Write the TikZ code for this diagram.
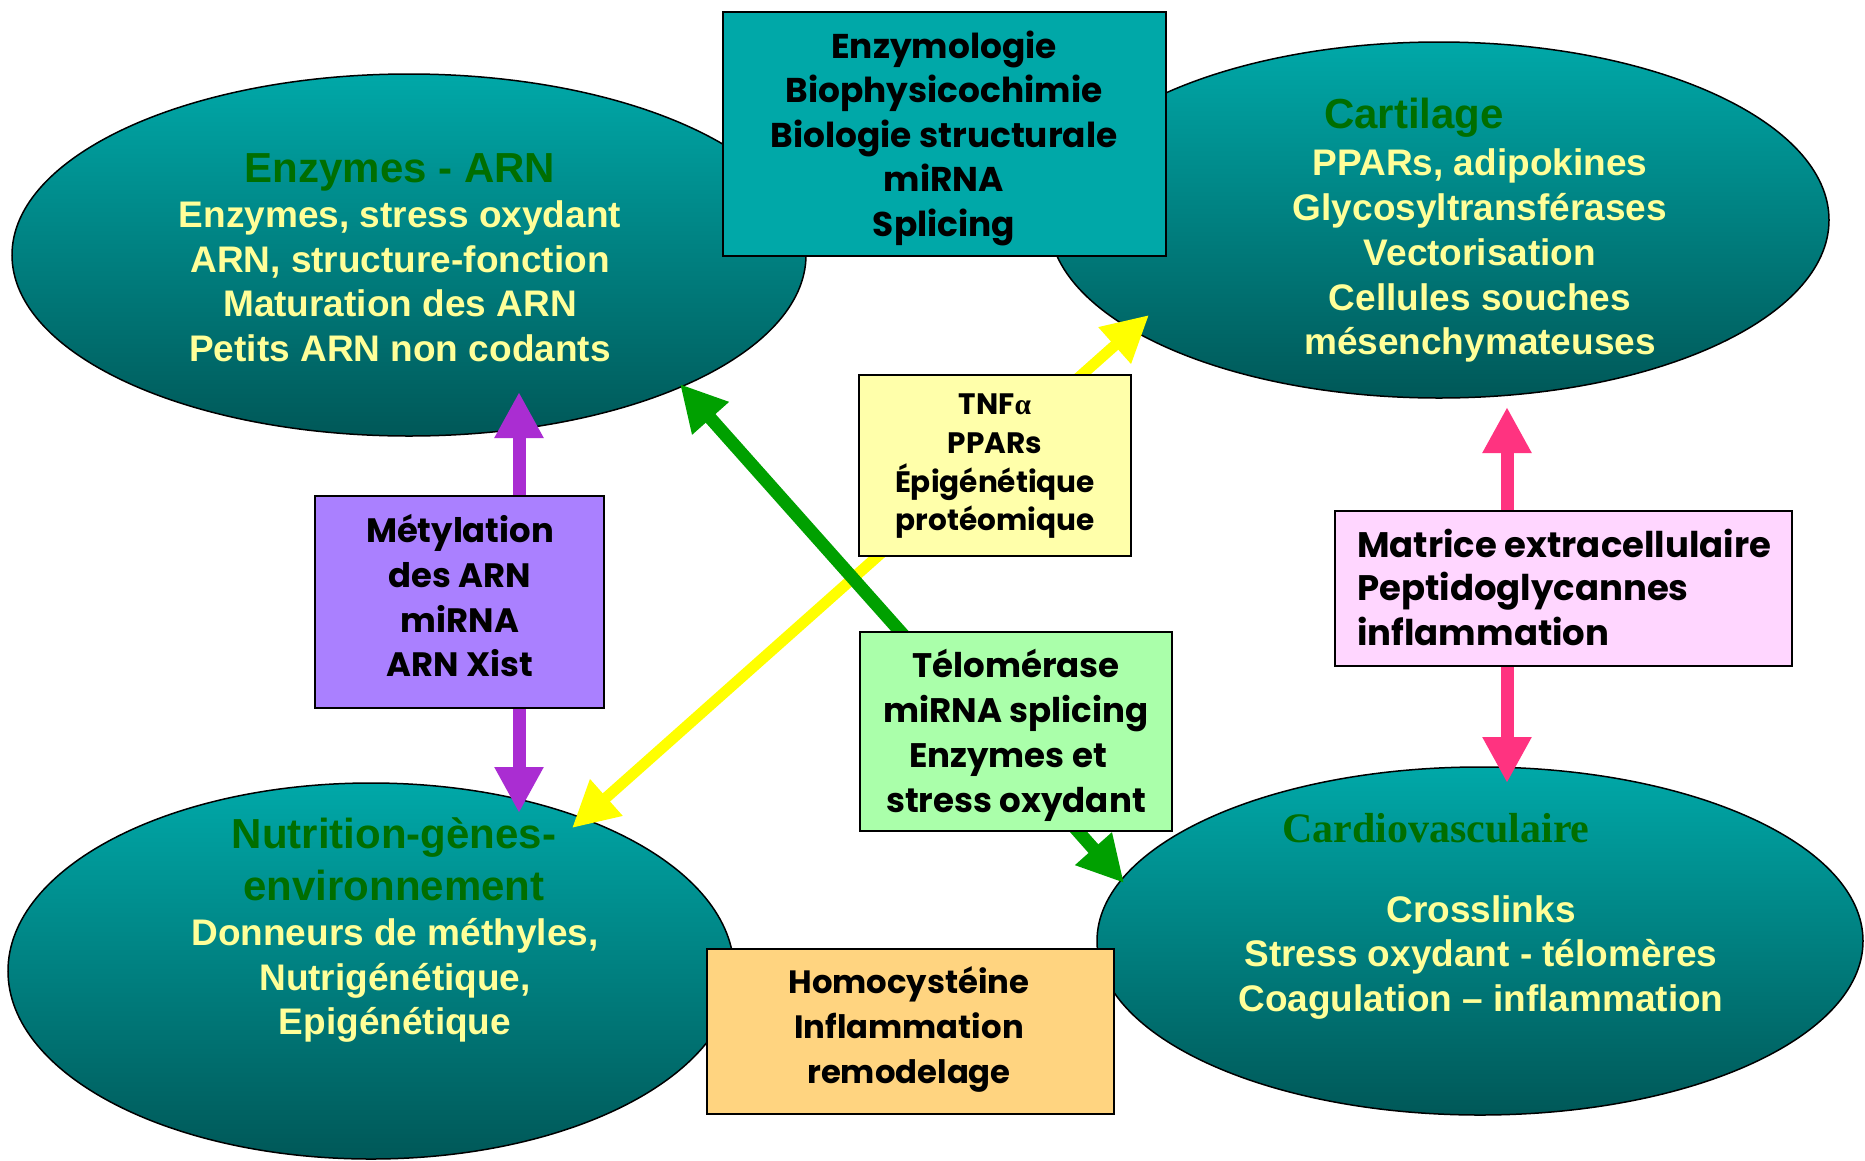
\documentclass[tikz,border=0pt]{standalone}
\usepackage{fontspec}
\setmainfont{Liberation Sans}
\newfontfamily\serifb{Liberation Serif}
\newfontfamily\comic{Poppins}
\usetikzlibrary{shapes.geometric,arrows.meta}
\definecolor{tealtop}{RGB}{0,168,168}
\definecolor{tealbot}{RGB}{0,88,88}
\definecolor{txtyel}{RGB}{255,255,153}
\definecolor{ttlgreen}{RGB}{0,110,0}
\definecolor{boxteal}{RGB}{0,168,168}
\definecolor{boxyel}{RGB}{255,255,170}
\definecolor{boxpur}{RGB}{170,128,255}
\definecolor{boxgrn}{RGB}{170,255,170}
\definecolor{boxpink}{RGB}{255,214,255}
\definecolor{boxora}{RGB}{255,212,128}
\definecolor{arrpur}{RGB}{170,45,210}
\definecolor{arrpink}{RGB}{255,51,128}
\definecolor{arrgrn}{RGB}{0,160,0}
\definecolor{arryel}{RGB}{255,255,0}
\newlength\tmpw
\newcommand\fitfs[3]{%
  \settowidth\tmpw{\comic\bfseries\fontsize{10}{12}\selectfont #1}%
  \pgfmathsetmacro#3{10*#2/\tmpw}}
\AtBeginDocument{%
\fitfs{Biologie structurale}{347}{\fsTop}%
\fitfs{Épigénétique}{200}{\fsYel}%
\fitfs{Métylation}{188}{\fsPur}%
\fitfs{miRNA splicing}{265}{\fsGrn}%
\fitfs{Matrice extracellulaire}{414}{\fsPink}%
\fitfs{Homocystéine}{241}{\fsOra}%
}
\tikzset{
  ell/.style={ellipse, draw=black, line width=1.5pt, inner sep=0pt, top color=tealtop, bottom color=tealbot},
  ttl/.style={anchor=base, inner sep=0pt, text=ttlgreen, font=\bfseries\fontsize{42}{50}\selectfont},
  body/.style={anchor=base, inner sep=0pt, text=txtyel, font=\bfseries\fontsize{37}{45}\selectfont},
  bx/.style={draw=black, line width=2.5pt, inner sep=0pt},
  btxt/.style={anchor=base, inner sep=0pt, text=black},
  con/.style={line width=13pt, -{Triangle[length=46pt,width=46pt]}},
  dcon/.style={line width=#1, {Triangle[length=46pt,width=46pt]}-{Triangle[length=46pt,width=46pt]}},
  btop/.style={btxt, font=\comic\bfseries\fontsize{\fsTop}{45}\selectfont},
  byel/.style={btxt, font=\comic\bfseries\fontsize{\fsYel}{39}\selectfont},
  bpur/.style={btxt, font=\comic\bfseries\fontsize{\fsPur}{45}\selectfont},
  bgrn/.style={btxt, font=\comic\bfseries\fontsize{\fsGrn}{45}\selectfont},
  bpink/.style={btxt, anchor=base west, font=\comic\bfseries\fontsize{\fsPink}{45}\selectfont},
  bora/.style={btxt, font=\comic\bfseries\fontsize{\fsOra}{45}\selectfont},
}
\begin{document}
\begin{tikzpicture}[x=1pt,y=-1pt]
\useasboundingbox (0,0) rectangle (1865,1160);
\fill[white] (0,0) rectangle (1865,1160);

% ellipses
\node[ell, minimum width=794pt, minimum height=362pt] (eA) at (409,255) {};
\node[ell, minimum width=780pt, minimum height=356pt] (eB) at (1439,220) {};
\node[ell, minimum width=726pt, minimum height=376pt] (eC) at (371,971) {};
\node[ell, minimum width=766pt, minimum height=348pt] (eD) at (1480,941) {};

% ellipse texts
\node[ttl] (tA0) at (400,182) {Enzymes - ARN};
\node[body] (tA1) at (400,227) {Enzymes, stress oxydant};
\node[body] (tA2) at (400,272) {ARN, structure-fonction};
\node[body] (tA3) at (400,316) {Maturation des ARN};
\node[body] (tA4) at (400,361) {Petits ARN non codants};

\node[ttl] (tB0) at (1414,128) {Cartilage};
\node[body] (tB1) at (1480,175) {PPARs, adipokines};
\node[body] (tB2) at (1480,220) {Glycosyltransférases};
\node[body] (tB3) at (1480,265) {Vectorisation};
\node[body] (tB4) at (1480,310) {Cellules souches};
\node[body] (tB5) at (1480,354) {mésenchymateuses};

\node[ttl] (tC0) at (394,848) {Nutrition-gènes-};
\node[ttl] (tC1) at (394,900) {environnement};
\node[body] (tC2) at (395,945) {Donneurs de méthyles,};
\node[body] (tC3) at (395,990) {Nutrigénétique,};
\node[body] (tC4) at (395,1034) {Epigénétique};

\node[ttl, font=\serifb\bfseries\fontsize{42}{50}\selectfont] (tD0) at (1436,842) {Cardiovasculaire};
\node[body] (tD1) at (1481,922) {Crosslinks};
\node[body] (tD2) at (1481,966) {Stress oxydant - télomères};
\node[body] (tD3) at (1481,1011) {Coagulation – inflammation};

% arrow end points
\coordinate (yB) at (1149,315);
\coordinate (yC) at (572,828);
\coordinate (gA) at (680,384);
\coordinate (gD) at (1124,883);
\coordinate (pA) at (519,392);
\coordinate (pC) at (519,813);
\coordinate (kB) at (1507,407);
\coordinate (kD) at (1507,783);

% boxes (positions)
\path (944.5,134) coordinate (cTop) (995,465.5) coordinate (cYel)
      (459.5,602) coordinate (cPur) (1016,731.5) coordinate (cGrn)
      (1563.5,588.5) coordinate (cPink) (910.5,1031.5) coordinate (cOra);

% long connectors (behind boxes)
\draw[dcon=11pt, arryel] (yC) -- (yB);
\draw[dcon=13pt, arrgrn] (gA) -- (gD);

% boxes
\node[bx, fill=boxteal, minimum width=443pt, minimum height=244pt] (top) at (cTop) {};
\node[bx, fill=boxyel, minimum width=272pt, minimum height=181pt] (yel) at (cYel) {};
\node[bx, fill=boxpur, minimum width=289pt, minimum height=212pt] (pur) at (cPur) {};
\node[bx, fill=boxgrn, minimum width=312pt, minimum height=199pt] (grn) at (cGrn) {};
\node[bx, fill=boxpink, minimum width=457pt, minimum height=155pt] (pink) at (cPink) {};
\node[bx, fill=boxora, minimum width=407pt, minimum height=165pt] (ora) at (cOra) {};

% short connectors
\draw[con, arrpur] (pA |- pur.north) -- (pA);
\draw[con, arrpur] (pC |- pur.south) -- (pC);
\draw[con, arrpink] (kB |- pink.north) -- (kB);
\draw[con, arrpink] (kD |- pink.south) -- (kD);

% box texts
\node[btop] (x1) at (944,58) {Enzymologie};
\node[btop] (x2) at (944,102.5) {Biophysicochimie};
\node[btop] (x3) at (944,147) {Biologie structurale};
\node[btop] (x4) at (944,191.5) {miRNA};
\node[btop] (x5) at (944,236) {Splicing};

\node[byel] (y1) at (995,414) {TNF{\serifb\bfseries α}};
\node[byel] (y2) at (995,453) {PPARs};
\node[byel] (y3) at (995,492) {Épigénétique};
\node[byel] (y4) at (995,530) {protéomique};

\node[bpur] (p1) at (460,542) {Métylation};
\node[bpur] (p2) at (460,587) {des ARN};
\node[bpur] (p3) at (460,632) {miRNA};
\node[bpur] (p4) at (460,676) {ARN Xist};

\node[bgrn] (g1) at (1016,677) {Télomérase};
\node[bgrn] (g2) at (1016,722) {miRNA splicing};
\node[bgrn] (g3) at (1008,767) {Enzymes et};
\node[bgrn] (g4) at (1016,812) {stress oxydant};

\node[bpink] (k1) at (1357,557) {Matrice extracellulaire};
\node[bpink] (k2) at (1357,600) {Peptidoglycannes};
\node[bpink] (k3) at (1357,645) {inflammation};

\node[bora] (o1) at (909,993) {Homocystéine};
\node[bora] (o2) at (909,1038) {Inflammation};
\node[bora] (o3) at (909,1083) {remodelage};
\end{tikzpicture}
\end{document}
